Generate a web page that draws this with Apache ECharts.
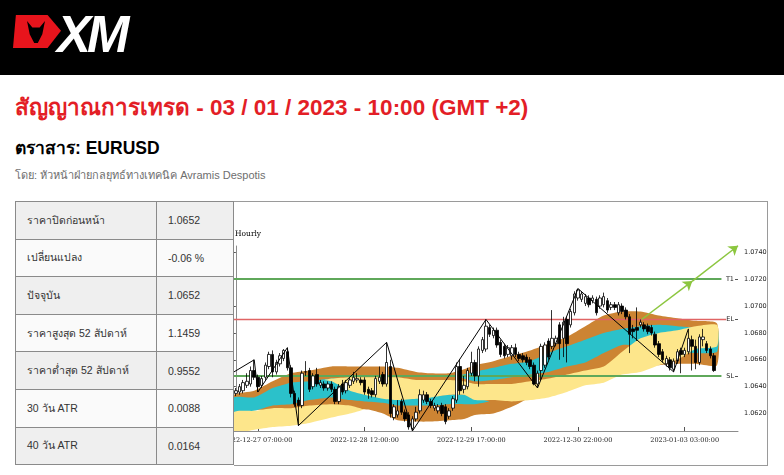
<!DOCTYPE html>
<html><head><meta charset="utf-8">
<script src="https://cdn.jsdelivr.net/npm/echarts@6/dist/echarts.min.js"></script>
<style>
html,body{margin:0;padding:0;background:#fff;width:784px;height:475px;overflow:hidden;font-family:"Liberation Sans","Noto Sans",sans-serif;}
#hdr{position:absolute;left:0;top:0;width:784px;height:75px;background:#000;}
#bull{position:absolute;left:13px;top:15px;width:48px;height:33px;background:#e8141c;clip-path:polygon(6% 0,72% 0,100% 48%,72% 100%,0 100%);}
#bullhead{position:absolute;left:27px;top:21px;width:18px;height:22px;background:#000;clip-path:polygon(0 0,30% 30%,70% 30%,100% 0,85% 60%,60% 100%,40% 100%,15% 60%);}
#xm{position:absolute;left:57px;top:5px;color:#fff;font:italic bold 51px "Liberation Sans",sans-serif;letter-spacing:-4px;}
#title{position:absolute;left:15px;top:89px;color:#e31e26;font-weight:bold;font-size:22.5px;white-space:nowrap;}
#sub{position:absolute;left:15px;top:134px;color:#000;font-weight:bold;font-size:17.5px;white-space:nowrap;}
#by{position:absolute;left:15px;top:166px;color:#6e6e6e;font-size:11px;white-space:nowrap;}
#tbl{position:absolute;left:15px;top:201px;border-collapse:collapse;width:219px;font-size:10.5px;color:#333;}
#tbl td{border:1px solid #8a8a8a;height:36.6px;padding:0 0 0 11px;}
#tbl tr:nth-child(odd) td{background:#efefef;}
#tbl tr:nth-child(even) td{background:#fafafa;}
#box{position:absolute;left:234px;top:201px;width:533px;height:263px;border:1px solid #9a9a9a;border-left:none;}
#chart{position:absolute;left:0;top:0;width:533px;height:263px;}
</style></head>
<body>
<div id="hdr"><div id="bull"></div><div id="bullhead"></div><div id="xm">XM</div></div>
<div id="title">สัญญาณการเทรด - 03 / 01 / 2023 - 10:00 (GMT +2)</div>
<div id="sub">ตราสาร: EURUSD</div>
<div id="by">โดย: หัวหน้าฝ่ายกลยุทธ์ทางเทคนิค Avramis Despotis</div>
<table id="tbl"></table>
<div id="box"><div id="chart"></div></div>
<script>
// ---------- table ----------
const tableLabels = ['ราคาปิดก่อนหน้า','เปลี่ยนแปลง','ปัจจุบัน','ราคาสูงสุด 52 สัปดาห์','ราคาต่ำสุด 52 สัปดาห์','30 วัน ATR','40 วัน ATR'];
const tableValues = ['1.0652','-0.06 %','1.0652','1.1459','0.9552','0.0088','0.0164'];

// ---------- chart data ----------
const tradingDays = ['2022-12-27','2022-12-28','2022-12-29','2022-12-30','2023-01-02','2023-01-03'];
const firstHour = 1;
const categoryCount = 137;
const tickLabels = ['2022-12-27 07:00:00','2022-12-28 12:00:00','2022-12-29 17:00:00','2022-12-30 22:00:00','2023-01-03 03:00:00'];
const yTicks = [1.0620,1.0640,1.0660,1.0680,1.0700,1.0720,1.0740];
const yMin = 1.06070, yMax = 1.07447;

// [open, close, low, high]
const ohlc = [
[1.0635,1.0637,1.0633,1.0639],[1.0636,1.0640,1.0634,1.0642],[1.0637,1.0643,1.0635,1.0645],[1.0641,1.0644,1.0639,1.0650],
[1.0642,1.0652,1.0640,1.0655],[1.0652,1.0647,1.0645,1.0660],[1.0647,1.0640,1.0636,1.0649],[1.0641,1.0646,1.0639,1.0648],
[1.0647,1.0656,1.0645,1.0658],[1.0655,1.0664,1.0653,1.0666],[1.0664,1.0651,1.0647,1.0667],[1.0651,1.0658,1.0649,1.0660],
[1.0657,1.0663,1.0655,1.0665],[1.0661,1.0667,1.0659,1.0668],[1.0666,1.0654,1.0652,1.0669],[1.0654,1.0635,1.0632,1.0656],
[1.0635,1.0627,1.0625,1.0637],[1.0630,1.0626,1.0611,1.0632],[1.0626,1.0650,1.0624,1.0652],[1.0651,1.0651,1.0648,1.0659],
[1.0652,1.0638,1.0636,1.0654],[1.0640,1.0648,1.0638,1.0650],[1.0649,1.0642,1.0640,1.0654],[1.0641,1.0643,1.0639,1.0645],
[1.0642,1.0639,1.0637,1.0644],[1.0639,1.0642,1.0637,1.0644],[1.0642,1.0638,1.0636,1.0644],[1.0638,1.0629,1.0627,1.0640],
[1.0629,1.0640,1.0627,1.0642],[1.0642,1.0636,1.0634,1.0645],[1.0637,1.0643,1.0635,1.0645],[1.0641,1.0645,1.0639,1.0647],
[1.0644,1.0647,1.0642,1.0651],[1.0645,1.0646,1.0643,1.0650],[1.0645,1.0643,1.0641,1.0647],[1.0645,1.0636,1.0634,1.0647],
[1.0638,1.0635,1.0631,1.0640],[1.0637,1.0634,1.0632,1.0639],[1.0634,1.0646,1.0632,1.0648],[1.0644,1.0647,1.0642,1.0655],
[1.0649,1.0642,1.0640,1.0651],[1.0642,1.0658,1.0640,1.0673],[1.0655,1.0620,1.0617,1.0660],[1.0617,1.0625,1.0615,1.0627],
[1.0619,1.0622,1.0617,1.0630],[1.0629,1.0621,1.0619,1.0631],[1.0621,1.0616,1.0614,1.0623],[1.0619,1.0610,1.0608,1.0621],
[1.0609,1.0616,1.0607,1.0618],[1.0616,1.0621,1.0614,1.0625],[1.0622,1.0634,1.0620,1.0638],[1.0630,1.0634,1.0628,1.0637],
[1.0634,1.0629,1.0627,1.0636],[1.0629,1.0626,1.0624,1.0631],[1.0624,1.0626,1.0622,1.0628],[1.0622,1.0625,1.0620,1.0627],
[1.0626,1.0620,1.0618,1.0628],[1.0625,1.0614,1.0612,1.0627],[1.0618,1.0622,1.0616,1.0624],[1.0624,1.0631,1.0622,1.0633],
[1.0630,1.0655,1.0628,1.0658],[1.0655,1.0637,1.0634,1.0660],[1.0638,1.0641,1.0635,1.0648],[1.0640,1.0652,1.0638,1.0654],
[1.0650,1.0658,1.0648,1.0666],[1.0658,1.0648,1.0644,1.0660],[1.0648,1.0668,1.0640,1.0670],[1.0667,1.0675,1.0665,1.0677],
[1.0668,1.0685,1.0666,1.0690],[1.0684,1.0679,1.0677,1.0686],[1.0678,1.0682,1.0676,1.0684],[1.0682,1.0671,1.0669,1.0684],
[1.0673,1.0664,1.0662,1.0675],[1.0670,1.0663,1.0661,1.0672],[1.0664,1.0669,1.0662,1.0671],[1.0663,1.0669,1.0660,1.0671],
[1.0669,1.0664,1.0662,1.0672],[1.0664,1.0661,1.0659,1.0666],[1.0663,1.0660,1.0658,1.0665],[1.0662,1.0658,1.0656,1.0664],
[1.0660,1.0655,1.0653,1.0662],[1.0656,1.0642,1.0641,1.0658],[1.0642,1.0650,1.0639,1.0652],[1.0652,1.0670,1.0645,1.0672],
[1.0656,1.0671,1.0654,1.0673],[1.0674,1.0662,1.0660,1.0676],[1.0670,1.0676,1.0668,1.0697],[1.0672,1.0676,1.0670,1.0678],
[1.0686,1.0672,1.0660,1.0688],[1.0676,1.0688,1.0662,1.0692],[1.0690,1.0672,1.0658,1.0692],[1.0686,1.0696,1.0684,1.0698],
[1.0695,1.0709,1.0693,1.0711],[1.0706,1.0712,1.0704,1.0713],[1.0705,1.0709,1.0703,1.0711],[1.0702,1.0707,1.0700,1.0709],
[1.0706,1.0701,1.0699,1.0708],[1.0704,1.0706,1.0702,1.0708],[1.0705,1.0695,1.0693,1.0707],[1.0700,1.0706,1.0698,1.0708],
[1.0701,1.0707,1.0699,1.0710],[1.0704,1.0697,1.0695,1.0706],[1.0699,1.0701,1.0697,1.0703],[1.0701,1.0699,1.0697,1.0703],
[1.0695,1.0701,1.0693,1.0703],[1.0700,1.0696,1.0694,1.0702],[1.0697,1.0692,1.0690,1.0699],[1.0692,1.0679,1.0665,1.0694],
[1.0683,1.0681,1.0676,1.0686],[1.0684,1.0682,1.0674,1.0699],[1.0686,1.0688,1.0684,1.0690],[1.0686,1.0683,1.0681,1.0688],
[1.0685,1.0681,1.0679,1.0687],[1.0684,1.0680,1.0678,1.0686],[1.0679,1.0671,1.0669,1.0681],[1.0672,1.0664,1.0662,1.0674],
[1.0666,1.0660,1.0658,1.0668],[1.0657,1.0661,1.0655,1.0663],[1.0660,1.0654,1.0652,1.0662],[1.0653,1.0659,1.0651,1.0661],
[1.0659,1.0666,1.0657,1.0668],[1.0667,1.0664,1.0650,1.0669],[1.0664,1.0667,1.0662,1.0669],[1.0666,1.0676,1.0664,1.0683],
[1.0675,1.0670,1.0652,1.0678],[1.0670,1.0658,1.0653,1.0675],[1.0658,1.0677,1.0656,1.0679],[1.0675,1.0677,1.0670,1.0683],
[1.0672,1.0667,1.0665,1.0674],[1.0668,1.0663,1.0661,1.0670],[1.0663,1.0652,1.0651,1.0665]
];

// zigzag turning points [bar index, price]
const zigzag = [[-0.5,1.0651],[5,1.0660],[6,1.0636],[14,1.0669],[17,1.0611],[41,1.0673],[48,1.0607],[68,1.0690],[82,1.0639],[93,1.0713],[119,1.0651],[123,1.0683]];

// band outlines [bar index, lower, upper]
const brownBand = [[-0.5,1.0622,1.0634],[5,1.0623,1.0637],[10,1.0622,1.0644],[15,1.0622,1.0650],[20,1.0623,1.0652],[26,1.0625,1.0655],[31,1.0624,1.0655],[36,1.0623,1.0655],[40,1.0620,1.0655],[44,1.0615,1.0654],[49,1.0614,1.0651],[53,1.0614,1.0650],[58,1.0615,1.0650],[62,1.0616,1.0653],[65,1.0619,1.0656],[70,1.0620,1.0659],[75,1.0625,1.0663],[80,1.0632,1.0667],[85,1.0637,1.0672],[90,1.0641,1.0677],[95,1.0646,1.0685],[100,1.0650,1.0693],[105,1.0654,1.0696],[110,1.0655,1.0696],[115,1.0656,1.0693],[120,1.0657,1.0691],[125,1.0657,1.0689],[130.8,1.0656,1.0687]];
const cyanBand1 = [[-0.5,1.0621,1.0632],[5,1.0622,1.0632],[10,1.0626,1.0639],[15,1.0627,1.0643],[20,1.0630,1.0644],[26,1.0632,1.0646],[31,1.0630,1.0645],[35,1.0629,1.0640],[40,1.0628,1.0635],[44,1.0626,1.0632],[49,1.0626,1.0632],[53,1.0626,1.0633],[58,1.0627,1.0634],[62,1.0627,1.0634],[65,1.0627,1.0632],[69,1.0629,1.0629]];
const cyanBand2 = [[60,1.0648,1.0648],[65,1.0644,1.0651],[70,1.0645,1.0654],[75,1.0647,1.0657],[80,1.0649,1.0659],[85,1.0651,1.0665],[90,1.0655,1.0670],[95,1.0658,1.0675],[100,1.0665,1.0680],[105,1.0671,1.0683],[110,1.0670,1.0685],[115,1.0668,1.0686],[120,1.0667,1.0685],[125,1.0665,1.0684],[130.8,1.0666,1.0684]];
const yellowBand1 = [[-0.5,1.0606,1.0621],[5,1.0608,1.0622],[10,1.0610,1.0624],[15,1.0611,1.0624],[20,1.0613,1.0626],[26,1.0617,1.0627],[31,1.0620,1.0626],[35,1.0623,1.0623]];
const yellowBand2 = [[24,1.0645,1.0645],[26,1.0644,1.0646],[31,1.0637,1.0647],[35,1.0634,1.0647],[40,1.0631,1.0647],[44,1.0630,1.0647],[49,1.0631,1.0645],[53,1.0632,1.0645],[58,1.0634,1.0645],[62,1.0634,1.0644],[65,1.0630,1.0642],[70,1.0630,1.0642],[75,1.0629,1.0642],[80,1.0630,1.0644],[85,1.0632,1.0646],[90,1.0636,1.0649],[95,1.0641,1.0652],[100,1.0643,1.0655],[105,1.0649,1.0666],[110,1.0651,1.0676],[115,1.0656,1.0680],[120,1.0660,1.0682],[125,1.0668,1.0685],[130.8,1.0670,1.0686]];

// trade levels
const levelNames = ['T1','EL','SL'];
const levelValues = [1.0720,1.0690,1.0648];
const levelEnds = [132,133.3,132];
// projection arrow [bar index, price]
const arrowPoints = [[110.3,1.0690],[124.1,1.07186],[136.5,1.07449]];

// ---------- build ----------
const tb = document.getElementById('tbl');
tableLabels.forEach((l,i)=>{const tr=document.createElement('tr');tr.innerHTML='<td style="width:129px">'+l+'</td><td>'+tableValues[i]+'</td>';tb.appendChild(tr);});

const categories = [];
let d = 0, h = firstHour;
while (categories.length < categoryCount) {
  categories.push(tradingDays[Math.min(d,tradingDays.length-1)] + ' ' + String(h).padStart(2,'0') + ':00:00');
  h++; if (h === 24) { h = 0; d++; }
}
const tickSet = new Set(tickLabels.map(t=>categories.indexOf(t)));

function bandSeries(band, color){
  return {type:'custom', xAxisIndex:1, yAxisIndex:0, silent:true, clip:true, data:[[0,band[0][1]]],
    renderItem:function(params, api){
      const up = band.map(p=>api.coord([p[0],p[2]]));
      const lo = band.slice().reverse().map(p=>api.coord([p[0],p[1]]));
      return {type:'polygon', shape:{points:up.concat(lo), smooth:0.2}, style:{fill:color}};
    }};
}

const chart = echarts.init(document.getElementById('chart'));
chart.setOption({
  animation:false,
  grid:{left:0,right:29,top:44,bottom:34,containLabel:false,outerBoundsMode:'none'},
  graphic:[{type:'text',left:1,top:28,style:{text:'Hourly',font:'7.5px "DejaVu Serif"',fill:'#000'}}],
  xAxis:[
    {type:'category',data:categories,boundaryGap:true,
     axisLine:{show:true,lineStyle:{color:'#8c8c8c',width:1}},
     axisTick:{show:true,inside:true,length:4,alignWithLabel:true,interval:(i)=>tickSet.has(i),lineStyle:{color:'#555'}},
     axisLabel:{interval:(i)=>tickSet.has(i),fontFamily:'DejaVu Serif',fontSize:6.5,color:'#222',margin:6},
     splitLine:{show:false}},
    {type:'value',min:-0.5,max:categoryCount-0.5,show:false}
  ],
  yAxis:[
    {type:'value',position:'right',min:yMin,max:yMax,scale:true,
     axisLine:{show:true,lineStyle:{color:'#8c8c8c'}},
     axisTick:{show:true,inside:true,length:3,customValues:yTicks,lineStyle:{color:'#555'}},
     axisLabel:{customValues:yTicks,formatter:(v)=>v.toFixed(4),fontFamily:'DejaVu Sans',fontSize:6.5,color:'#222',margin:6},
     splitLine:{show:false}},
    {type:'value',position:'right',min:yMin,max:yMax,scale:true,
     axisLine:{show:false},
     axisTick:{show:true,inside:true,length:3,customValues:levelValues,lineStyle:{color:'#555'}},
     axisLabel:{inside:true,customValues:levelValues,formatter:(v)=>{let k=0;levelValues.forEach((x,j)=>{if(Math.abs(x-v)<Math.abs(levelValues[k]-v))k=j;});return levelNames[k];},fontFamily:'DejaVu Sans',fontSize:6.5,color:'#222',margin:4},
     splitLine:{show:false}}
  ],
  series:[
    bandSeries(brownBand,'#cc8433'),
    bandSeries(cyanBand1,'#2bc1ca'),
    bandSeries(cyanBand2,'#2bc1ca'),
    bandSeries(yellowBand1,'#fde68b'),
    bandSeries(yellowBand2,'#fde68b'),
    {type:'lines',coordinateSystem:'cartesian2d',xAxisIndex:1,yAxisIndex:0,silent:true,symbol:'none',
     data:levelValues.map((v,i)=>({coords:[[-0.5,v],[levelEnds[i],v]],lineStyle:{color:levelNames[i]==='EL'?'#e06464':'#5fa85a',width:levelNames[i]==='EL'?1.3:2,opacity:1}}))},
    {type:'candlestick',xAxisIndex:0,yAxisIndex:0,data:ohlc,barWidth:3,
     itemStyle:{color:'#ffffff',color0:'#000000',borderColor:'#000000',borderColor0:'#000000',borderWidth:0.8}},
    {type:'line',xAxisIndex:1,yAxisIndex:0,data:zigzag,symbol:'none',silent:true,lineStyle:{color:'#000',width:1}},
    {type:'lines',coordinateSystem:'cartesian2d',xAxisIndex:1,yAxisIndex:0,silent:true,clip:false,
     symbol:['none','arrow'],symbolSize:9,
     data:[{coords:[arrowPoints[0],arrowPoints[1]]},{coords:[arrowPoints[1],arrowPoints[2]]}],
     lineStyle:{color:'#8cc63f',width:1.5,opacity:1}}
  ]
});
</script>
</body></html>
